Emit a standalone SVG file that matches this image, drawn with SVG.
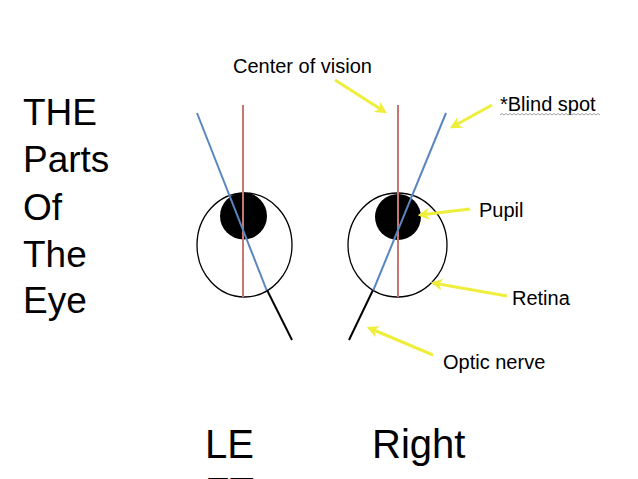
<svg xmlns="http://www.w3.org/2000/svg" width="638" height="479" viewBox="0 0 638 479">
<defs>
<style>
text{font-family:"Liberation Sans",Arial,Helvetica,sans-serif;fill:#000}
.lbl{font-size:20px}
.big{font-size:37px}
.eyelbl{font-size:40px}
.red{stroke:#c87670;stroke-width:2;fill:none}
.blue{stroke:#5a86bf;stroke-width:2;fill:none}
.blk{stroke:#000;stroke-width:2;fill:none}
.ball{fill:#fff;stroke:#000;stroke-width:1.3}
.ylw{stroke:#eeee3c;stroke-width:3;fill:none;marker-end:url(#ah)}
</style>
<marker id="ah" viewBox="0 0 10 10" refX="8" refY="5" markerWidth="4" markerHeight="4" orient="auto" markerUnits="strokeWidth">
<path d="M0,0 L10,5 L0,10 L3,5 Z" fill="#eeee3c"/>
</marker>
</defs>
<rect width="638" height="479" fill="#fff"/>
<g id="title">
<text class="big" x="23" y="125">THE</text>
<text class="big" x="23" y="172">Parts</text>
<text class="big" x="23" y="220">Of</text>
<text class="big" x="23" y="267">The</text>
<text class="big" x="23" y="313">Eye</text>
</g>
<g id="left-eye">
<ellipse class="ball" cx="244.5" cy="245" rx="47.5" ry="52"/>
<circle cx="243.5" cy="216" r="23.5" fill="#000"/>
<line class="red" x1="243" y1="105" x2="243" y2="297"/>
<line class="blue" x1="197" y1="113" x2="267" y2="291"/>
<line class="blk" x1="267" y1="290" x2="292" y2="340"/>
</g>
<g id="right-eye">
<ellipse class="ball" cx="397.5" cy="245" rx="49.5" ry="52"/>
<circle cx="398" cy="217" r="23" fill="#000"/>
<line class="red" x1="398" y1="105" x2="398" y2="297"/>
<line class="blue" x1="446" y1="113" x2="373" y2="291"/>
<line class="blk" x1="373" y1="290" x2="349" y2="340"/>
</g>
<g id="labels">
<text class="lbl" x="233" y="73">Center of vision</text>
<text class="lbl" x="500" y="111">*Blind spot</text>
<path d="M500,115 l2,-1.5 l2,1.5 l2,-1.5 l2,1.5 l2,-1.5 l2,1.5 l2,-1.5 l2,1.5 l2,-1.5 l2,1.5 l2,-1.5 l2,1.5 l2,-1.5 l2,1.5 l2,-1.5 l2,1.5 l2,-1.5 l2,1.5 l2,-1.5 l2,1.5 l2,-1.5 l2,1.5 l2,-1.5 l2,1.5 l2,-1.5 l2,1.5 l2,-1.5 l2,1.5 l2,-1.5 l2,1.5 l2,-1.5 l2,1.5 l2,-1.5 l2,1.5 l2,-1.5 l2,1.5 l2,-1.5 l2,1.5 l2,-1.5 l2,1.5 l2,-1.5 l2,1.5 l2,-1.5 l2,1.5 l2,-1.5 l2,1.5 l2,-1.5 l2,1.5 l2,-1.5 l2,1.5" fill="none" stroke="#8a8a8a" stroke-width="0.8"/>
<text class="lbl" x="479" y="217">Pupil</text>
<text class="lbl" x="512" y="305">Retina</text>
<text class="lbl" x="443" y="369">Optic nerve</text>
<text class="eyelbl" x="205" y="458">LE</text>
<text class="eyelbl" x="205" y="506">FT</text>
<text class="eyelbl" x="372" y="458">Right</text>
</g>
<g id="connectors">
<line class="ylw" x1="335" y1="80" x2="385" y2="112"/>
<line class="ylw" x1="492" y1="105" x2="452" y2="127"/>
<line class="ylw" x1="470" y1="209" x2="420" y2="215"/>
<line class="ylw" x1="507" y1="296" x2="433" y2="283"/>
<line class="ylw" x1="433" y1="355" x2="369" y2="328"/>
</g>
</svg>
